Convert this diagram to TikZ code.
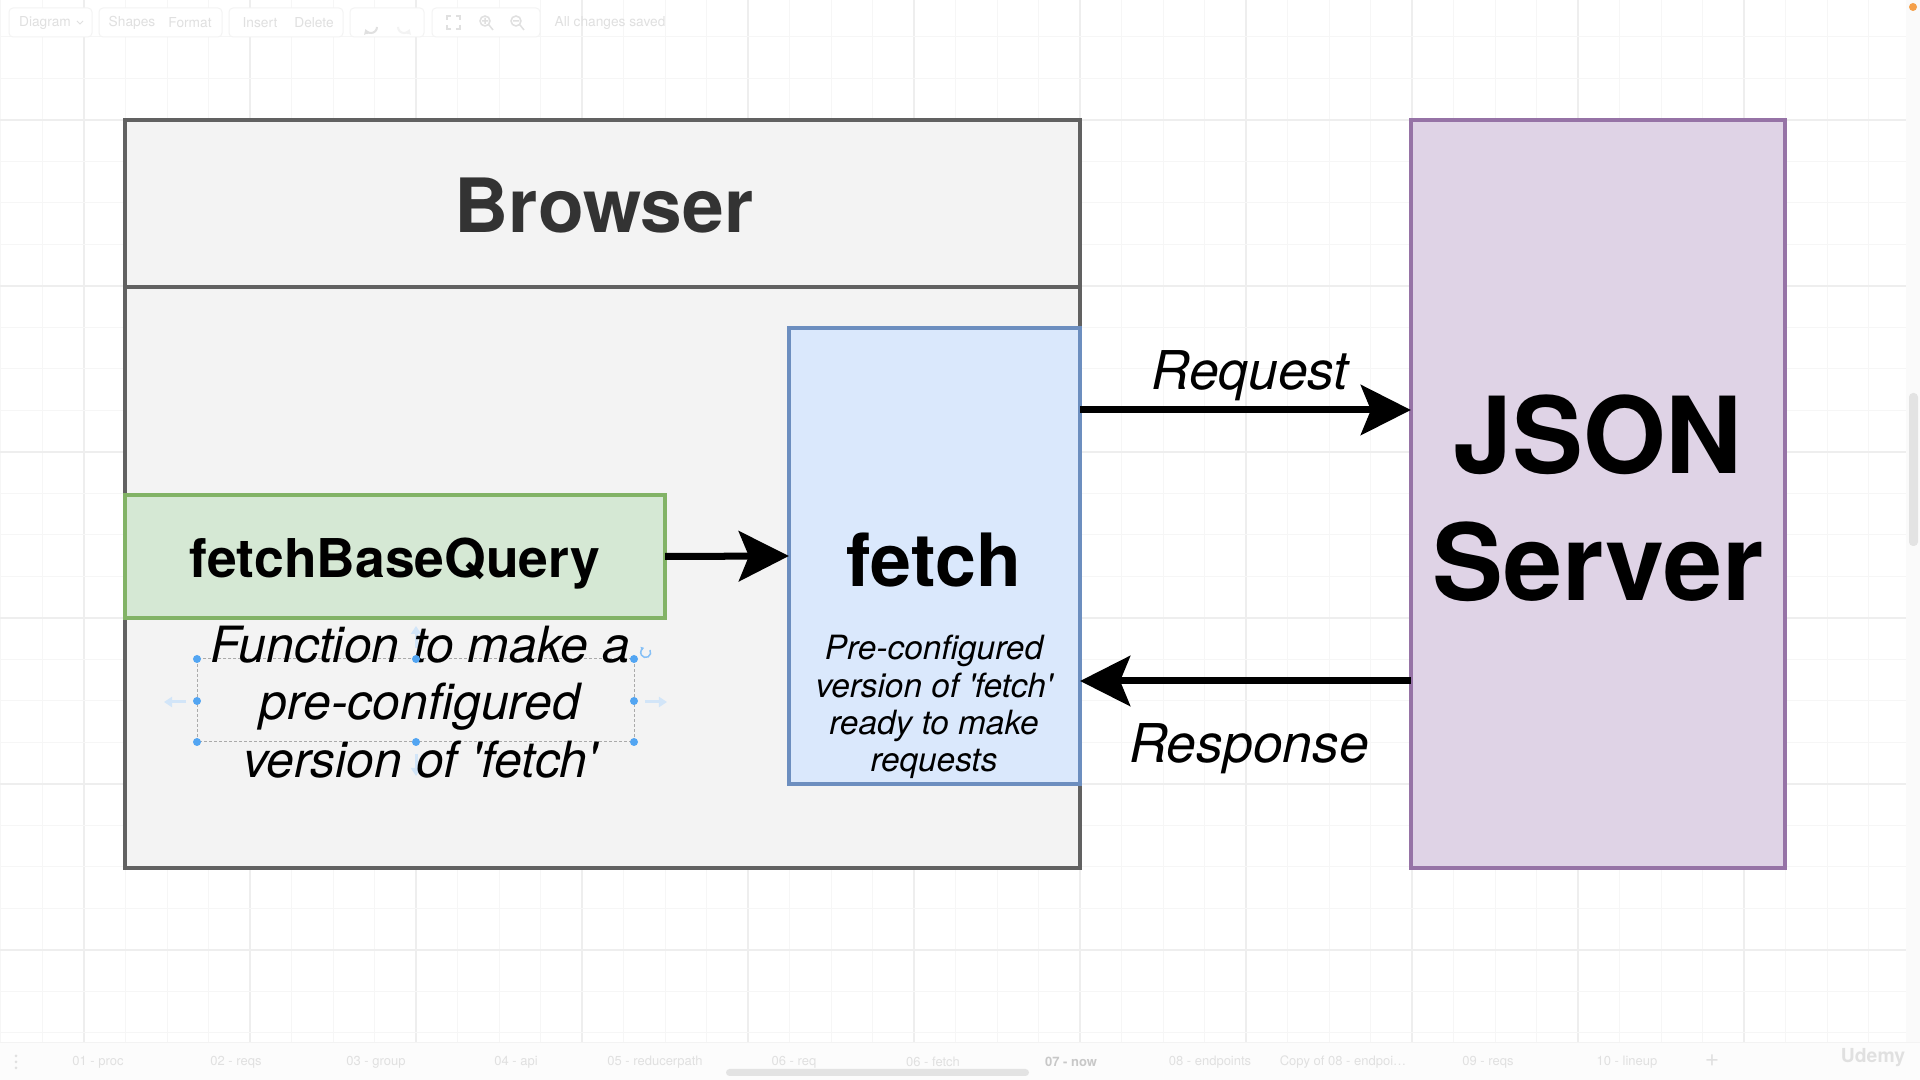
\documentclass[tikz,border=0pt]{standalone}
\usepackage{fontspec}
\setmainfont{TeX Gyre Heros}
\usetikzlibrary{arrows.meta}
\definecolor{gridminor}{HTML}{F6F6F6}
\definecolor{gridmajor}{HTML}{EEEEEE}
\definecolor{bfill}{HTML}{F3F3F3}
\definecolor{bstroke}{HTML}{616161}
\definecolor{btext}{HTML}{333333}
\definecolor{gfill}{HTML}{D5E8D4}
\definecolor{gstroke}{HTML}{82B366}
\definecolor{ffill}{HTML}{DAE8FC}
\definecolor{fstroke}{HTML}{6C8EBF}
\definecolor{pfill}{HTML}{DFD3E6}
\definecolor{pstroke}{HTML}{9673A6}
\definecolor{uitext}{HTML}{E0E0E0}
\definecolor{uibox}{HTML}{F3F3F3}
\definecolor{uistrip}{HTML}{FAFAFA}
\definecolor{uithumb}{HTML}{E3E3E3}
\definecolor{uiorange}{HTML}{F5A04A}
\definecolor{uibar}{HTML}{FCFCFC}
\definecolor{uinow}{HTML}{C8C8C8}
\definecolor{uidash}{HTML}{AAAAAA}
\definecolor{handle}{HTML}{52A5F2}
\definecolor{handlelight}{HTML}{D2E5F8}
\newcommand{\straightq}{\textquotesingle}
\begin{document}
\begin{tikzpicture}[x=0.01cm,y=-0.01cm,
  box/.style={draw, line width=0.04cm, inner sep=0pt, outer sep=0pt},
  flow/.style={line width=0.07cm, -{Stealth[length=0.5cm,width=0.5cm,inset=0.1cm]}},
  plain/.style={inner sep=0pt, outer sep=0pt},
  titlefont/.style={font=\fontsize{21.3}{25}\selectfont\bfseries, text=btext},
  fbqfont/.style={font=\fontsize{15.2}{18}\selectfont\bfseries},
  fetchfont/.style={font=\fontsize{20.9}{24}\selectfont\bfseries},
  jsonfont/.style={font=\fontsize{30.2}{36.1}\selectfont\bfseries, align=center},
  labelfont/.style={font=\fontsize{15.2}{18}\selectfont\itshape},
  funcfont/.style={font=\fontsize{14.2}{16.3}\selectfont\itshape, align=center},
  descfont/.style={font=\fontsize{9.5}{10.6}\selectfont\itshape, align=center},
  uifont/.style={font=\fontsize{3.9}{4.5}\selectfont, text=uitext},
  tabfont/.style={font=\fontsize{3.7}{4.5}\selectfont, text=uitext},
  toolbox/.style={draw=uibox, line width=0.01cm, rounded corners=0.04cm},
  dot/.style={circle, fill=handle, inner sep=0pt, minimum size=0.08cm},
  sidearrow/.style={draw=handlelight, line width=0.03cm, -{Triangle[length=0.08cm,width=0.1cm]}}
]
\useasboundingbox (0,0) rectangle (1920,1080);
\fill[white] (0,0) rectangle (1920,1080);

% grid
\foreach \k in {-26,...,20} {
  \pgfmathtruncatemacro{\m}{mod(\k+40,4)}
  \ifnum\m=0
    \draw[gridmajor, line width=0.012cm] ({1080+41.5*\k},0) -- ({1080+41.5*\k},1080);
  \else
    \draw[gridminor, line width=0.01cm] ({1080+41.5*\k},0) -- ({1080+41.5*\k},1080);
  \fi
}
\foreach \k in {-2,...,23} {
  \pgfmathtruncatemacro{\m}{mod(\k+40,4)}
  \ifnum\m=0
    \draw[gridmajor, line width=0.012cm] (0,{120+41.5*\k}) -- (1920,{120+41.5*\k});
  \else
    \draw[gridminor, line width=0.01cm] (0,{120+41.5*\k}) -- (1920,{120+41.5*\k});
  \fi
}

% toolbar
\foreach \a/\b in {9/92, 99/222, 229/343, 350/424, 432/540}
  \draw[toolbox, fill=white] (\a,8) rectangle (\b,37);
\node[uifont] (tbdiagram) at (45,23) {Diagram};
\draw[uitext, line width=0.01cm] (77,21) -- (80,24) -- (83,21);
\node[uifont] (tbshapes) at (132,23) {Shapes};
\node[uifont] (tbformat) at (190,23) {Format};
\node[uifont] (tbinsert) at (260,23) {Insert};
\node[uifont] (tbdelete) at (314,23) {Delete};
\node[uifont] (tbsaved) at (610,23) {All changes saved};
\draw[uitext, line width=0.02cm, -{Triangle[length=0.05cm,width=0.06cm]}] (377,27) arc[start angle=0, end angle=160, radius=6];
\draw[uibox, line width=0.02cm, -{Triangle[length=0.05cm,width=0.06cm]}] (398,27) arc[start angle=180, end angle=20, radius=6];
\draw[uitext, line width=0.015cm] (447,20) -- (447,16) -- (451,16) (456,16) -- (460,16) -- (460,20) (460,25) -- (460,29) -- (456,29) (451,29) -- (447,29) -- (447,25);
\draw[uitext, line width=0.015cm] (485,21) circle[radius=5] (489,25) -- (493,30) (482,21) -- (488,21) (485,18) -- (485,24);
\draw[uitext, line width=0.015cm] (516,21) circle[radius=5] (520,25) -- (524,30) (513,21) -- (519,21);

% right scroll strip
\fill[uistrip] (1906,0) rectangle (1920,1042);
\fill[uithumb, rounded corners=0.04cm] (1909,393) rectangle (1918,546);
\fill[uiorange] (1913,7) circle[radius=4];

% Browser container
\node[box, fill=bfill, draw=bstroke, minimum width=9.55cm, minimum height=7.48cm] (browser) at (602.5,494) {};
\coordinate (hdr) at (0,287);
\draw[bstroke, line width=0.04cm] (browser.west |- hdr) -- (browser.east |- hdr);
\node[plain, titlefont, anchor=base] (browsertitle) at (604,233) {Browser};

% fetchBaseQuery
\node[box, fill=gfill, draw=gstroke, minimum width=5.40cm, minimum height=1.23cm] (fbq) at (395,556.5) {};
\node[plain, fbqfont, anchor=base] (fbqtext) at (395,578) {fetchBaseQuery};

% fetch
\node[box, fill=ffill, draw=fstroke, minimum width=2.91cm, minimum height=4.56cm] (fetch) at (934.5,556) {};
\node[plain, fetchfont, anchor=base] (fetchtext) at (934,587) {fetch};
\node[plain, descfont] (fetchdesc) at (934,707) {Pre-configured\\version of \straightq fetch\straightq\\ready to make\\requests};

% JSON Server
\node[box, fill=pfill, draw=pstroke, minimum width=3.74cm, minimum height=7.48cm] (json) at (1598,494) {};
\node[plain, jsonfont] (jsontext) at (1598,498) {JSON\\Server};

% connectors
\draw[flow] (fbq.east) -- (fetch.west);
\coordinate (reqy) at (0,410);
\coordinate (resy) at (0,681);
\draw[flow] (fetch.east |- reqy) -- (json.west |- reqy);
\draw[flow] (json.west |- resy) -- (fetch.east |- resy);
\node[plain, labelfont, anchor=base] (reqlabel) at (1250,390) {Request};
\node[plain, labelfont, anchor=base] (reslabel) at (1249,763) {Response};

% selection handles around the description text
\draw[sidearrow] (186,702) -- (164,702);
\draw[sidearrow] (645,702) -- (667,702);
\draw[sidearrow] (416,648) -- (416,626);
\draw[sidearrow] (416,754) -- (416,776);
\draw[uidash, line width=0.01cm, dash pattern=on 0.03cm off 0.02cm] (197,659) rectangle (634,742);
\node[plain, funcfont] (functext) at (420,702) {Function to make a\\pre-configured\\version of \straightq fetch\straightq};
\foreach \px/\py in {197/659, 416/659, 634/659, 197/701, 634/701, 197/742, 416/742, 634/742}
  \node[dot] at (\px,\py) {};
\draw[handle!70, line width=0.015cm, -{Triangle[length=0.03cm,width=0.04cm]}] (650,650) arc[start angle=-30, end angle=250, radius=5];

% bottom tab bar
\fill[uibar] (0,1043) rectangle (1920,1080);
\draw[uibox, line width=0.01cm] (0,1043) -- (1920,1043);
\foreach \dy in {1056,1062,1068} \fill[uitext] (16,\dy) circle[radius=1.5];
\foreach \tx/\tl [count=\i] in {98/01 - proc, 236/02 - reqs, 376/03 - group, 516/04 - api, 655/05 - reducerpath, 794/06 - req, 933/06 - fetch, 1210/08 - endpoints, 1488/09 - reqs, 1627/10 - lineup}
  \node[tabfont] (tab\i) at (\tx,1062) {\tl};
\node[tabfont] (tabcopy) at (1343,1062) {Copy of 08 - endpoi\ldots};
\node[tabfont, text=uinow, font=\fontsize{3.7}{4.5}\selectfont\bfseries] (tabnow) at (1071,1062) {07 - now};
\node[tabfont, font=\fontsize{7}{7}\selectfont] (tabplus) at (1712,1061) {+};
\fill[uithumb, rounded corners=0.035cm] (726,1069) rectangle (1029,1076);
\node[plain, font=\fontsize{5.5}{6}\selectfont\bfseries, text=uitext] (udemy) at (1873,1058) {Udemy};
\end{tikzpicture}
\end{document}
